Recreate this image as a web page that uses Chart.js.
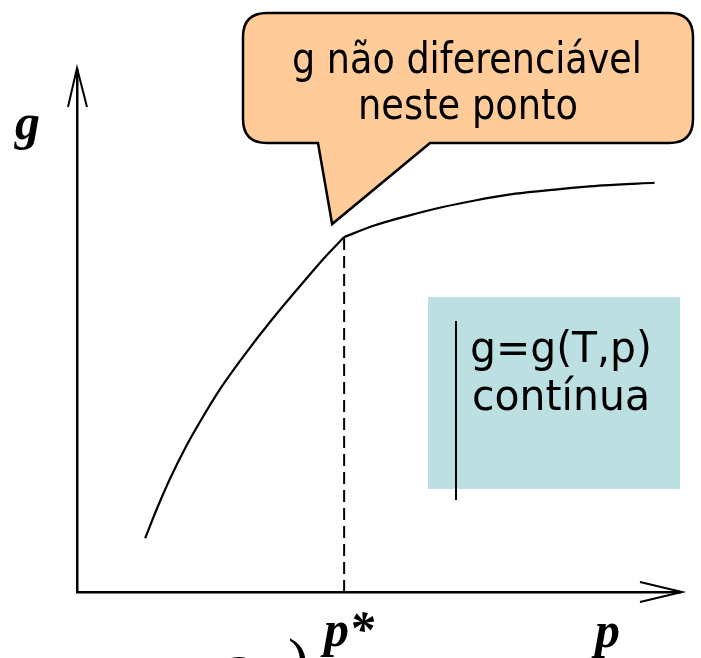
<!DOCTYPE html>
<html>
<head>
<meta charset="utf-8">
<script src="https://cdn.jsdelivr.net/npm/chart.js@4"></script>
<style>
  html, body { margin: 0; padding: 0; background: #fff; }
  #wrap { width: 701px; height: 658px; }
</style>
</head>
<body>
<div id="wrap"><canvas id="gChart" width="701" height="658"></canvas></div>
<script>
// g(p) antes e depois do ponto p*
var pBefore = [1.13, 1.33, 1.55, 1.80, 2.05, 2.38, 2.77, 3.22, 3.72, 4.10, 4.43];
var gBefore = [1.03, 1.61, 2.19, 2.77, 3.28, 3.90, 4.53, 5.20, 5.89, 6.40, 6.80];
var pAfter  = [4.43, 4.93, 5.50, 6.05, 6.60, 7.27, 7.93, 8.72, 9.58];
var gAfter  = [6.80, 7.02, 7.21, 7.37, 7.50, 7.63, 7.71, 7.79, 7.84];
var pStar = 4.43;
var gStar = 6.80;
var axisMax = [10, 10];

var calloutLines = ['g não diferenciável', 'neste ponto'];
var boxLines = ['g=g(T,p)', 'contínua'];
var axisLabels = { g: 'g', pStar: 'p*', p: 'p' };

function pts(xs, ys) {
  return xs.map(function (x, i) { return { x: x, y: ys[i] }; });
}

// texto com largura ajustada (Tahoma não existe aqui)
function fitText(ctx, txt, x, y, w, align) {
  var m = ctx.measureText(txt).width;
  var k = w / m;
  ctx.save();
  ctx.translate(x, y);
  ctx.scale(k, 1);
  ctx.textAlign = align;
  ctx.fillText(txt, 0, 0);
  ctx.restore();
}

function roundedCallout(ctx, l, t, r, b, rad, tail) {
  ctx.beginPath();
  ctx.moveTo(l + rad, t);
  ctx.lineTo(r - rad, t);
  ctx.quadraticCurveTo(r, t, r, t + rad);
  ctx.lineTo(r, b - rad);
  ctx.quadraticCurveTo(r, b, r - rad, b);
  ctx.lineTo(tail.right, b);
  ctx.lineTo(tail.tipX, tail.tipY);
  ctx.lineTo(tail.left, b);
  ctx.lineTo(l + rad, b);
  ctx.quadraticCurveTo(l, b, l, b - rad);
  ctx.lineTo(l, t + rad);
  ctx.quadraticCurveTo(l, t, l + rad, t);
  ctx.closePath();
}

var decor = {
  id: 'decor',
  beforeDatasetsDraw: function (chart) {
    var ctx = chart.ctx;
    // caixa azul
    ctx.save();
    ctx.fillStyle = '#BCDFE2';
    ctx.fillRect(428, 297, 252, 192);
    ctx.strokeStyle = '#000';
    ctx.lineWidth = 2;
    ctx.beginPath();
    ctx.moveTo(456, 321);
    ctx.lineTo(456, 500);
    ctx.stroke();
    ctx.fillStyle = '#000';
    ctx.font = '43px "DejaVu Sans"';
    ctx.textBaseline = 'alphabetic';
    fitText(ctx, boxLines[0], 470, 362, 182, 'left');
    fitText(ctx, boxLines[1], 472, 410, 178, 'left');
    ctx.restore();
  },
  afterDraw: function (chart) {
    var ctx = chart.ctx;
    var xs = chart.scales.x, ys = chart.scales.y;
    var ox = xs.getPixelForValue(0), oy = ys.getPixelForValue(0);
    var xt = xs.getPixelForValue(axisMax[0]), yt = ys.getPixelForValue(axisMax[1]);
    ctx.save();
    ctx.strokeStyle = '#000';
    ctx.lineWidth = 2;
    // setas dos eixos
    ctx.beginPath();
    ctx.moveTo(ox - 9, yt + 37); ctx.lineTo(ox, yt - 2); ctx.lineTo(ox + 10, yt + 37);
    ctx.moveTo(xt - 40, oy - 10); ctx.lineTo(xt + 2, oy); ctx.lineTo(xt - 40, oy + 10);
    ctx.stroke();

    // balão
    var kx = xs.getPixelForValue(pStar), ky = ys.getPixelForValue(gStar);
    ctx.lineWidth = 2.5;
    ctx.lineJoin = 'miter';
    roundedCallout(ctx, 243, 13, 693, 143, 24, { left: 318, right: 430, tipX: kx - 12, tipY: ky - 13 });
    ctx.fillStyle = '#FFCC99';
    ctx.fill();
    ctx.stroke();
    ctx.fillStyle = '#000';
    ctx.font = '43px "DejaVu Sans"';
    fitText(ctx, calloutLines[0], 467, 73, 350, 'center');
    fitText(ctx, calloutLines[1], 468, 119, 220, 'center');

    // rótulos dos eixos
    ctx.font = 'italic bold 50px "Liberation Serif"';
    ctx.textAlign = 'left';
    ctx.fillText(axisLabels.g, 15, 139);
    ctx.fillText(axisLabels.pStar, 324, 646);
    ctx.fillText(axisLabels.p, 595, 647);
    // pedaço de fórmula cortado em baixo
    ctx.font = '62px "Liberation Serif"';
    ctx.fillText('2', 226, 697);
    ctx.fillText(')', 288, 681);
    ctx.restore();
  }
};

new Chart(document.getElementById('gChart'), {
  type: 'scatter',
  data: {
    datasets: [
      { data: pts(pBefore, gBefore), showLine: true, borderColor: '#000', borderWidth: 2.2, pointRadius: 0, tension: 0.4, cubicInterpolationMode: 'monotone' },
      { data: pts(pAfter, gAfter), showLine: true, borderColor: '#000', borderWidth: 2.2, pointRadius: 0, tension: 0.4, cubicInterpolationMode: 'monotone' },
      { data: [{ x: pStar, y: 0 }, { x: pStar, y: gStar }], showLine: true, borderColor: '#000', borderWidth: 2, borderDash: [12, 6], pointRadius: 0 }
    ]
  },
  options: {
    responsive: false,
    animation: false,
    devicePixelRatio: 1,
    layout: { padding: { left: 77, right: 21, top: 70, bottom: 66 } },
    plugins: { legend: { display: false }, tooltip: { enabled: false } },
    scales: {
      x: {
        type: 'linear', min: 0, max: axisMax[0],
        grid: { display: false }, ticks: { display: false },
        border: { display: true, color: '#000', width: 2.5 },
        afterFit: function (s) { s.height = 0; }
      },
      y: {
        type: 'linear', min: 0, max: axisMax[1],
        grid: { display: false }, ticks: { display: false },
        border: { display: true, color: '#000', width: 2.5 },
        afterFit: function (s) { s.width = 0; }
      }
    }
  },
  plugins: [decor]
});
</script>
</body>
</html>
